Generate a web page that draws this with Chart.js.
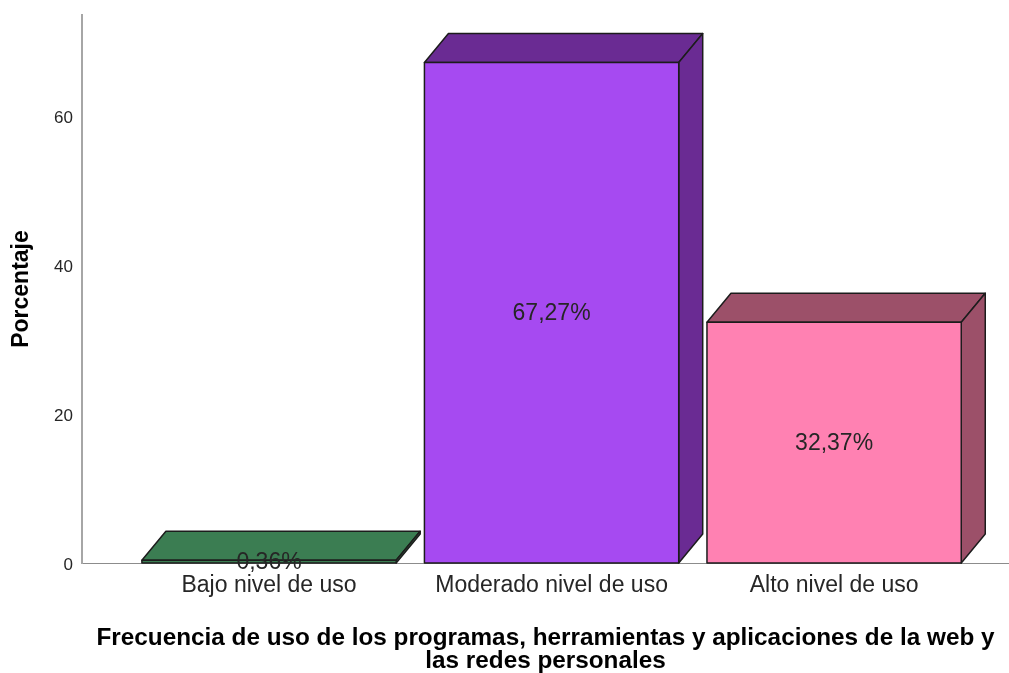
<!DOCTYPE html>
<html>
<head>
<meta charset="utf-8">
<script src="https://cdn.jsdelivr.net/npm/chart.js@4.4.1/dist/chart.umd.min.js"></script>
<style>
  html, body { margin: 0; padding: 0; background: #fff; }
  #wrap { width: 1009px; height: 673px; }
</style>
</head>
<body>
<div id="wrap"><canvas id="nivelUsoChart"></canvas></div>
<script>
const categories = ['Bajo nivel de uso', 'Moderado nivel de uso', 'Alto nivel de uso'];
const percentages = [0.36, 67.27, 32.37];
const yTicks = [0, 20, 40, 60];

const frontColors = ['#3b7d52', '#a64af1', '#ff81b2'];
const topColors = ['#3b7d52', '#6a2b93', '#9c5069'];
const fontFam = "'Liberation Sans', Arial, sans-serif";

// caras superior y lateral de cada barra (efecto 3D como en SPSS)
const bars3d = {
  id: 'bars3d',
  afterDatasetsDraw(chart) {
    const ctx = chart.ctx;
    const meta = chart.getDatasetMeta(0);
    const dx = 24, dy = 29;
    const poly = (pts, fill) => {
      ctx.beginPath();
      ctx.moveTo(pts[0][0], pts[0][1]);
      for (let k = 1; k < pts.length; k++) ctx.lineTo(pts[k][0], pts[k][1]);
      ctx.closePath();
      ctx.fillStyle = fill;
      ctx.fill();
      ctx.stroke();
    };
    ctx.save();
    ctx.lineWidth = 1.5;
    ctx.strokeStyle = '#1c1c1c';
    ctx.lineJoin = 'round';
    meta.data.forEach((bar, i) => {
      const l = bar.x - bar.width / 2, r = bar.x + bar.width / 2;
      const t = bar.y, b = bar.base;
      poly([[l, t], [l + dx, t - dy], [r + dx, t - dy], [r, t]], topColors[i]);
      poly([[r, t], [r + dx, t - dy], [r + dx, b - dy], [r, b]], topColors[i]);
      poly([[l, t], [r, t], [r, b], [l, b]], frontColors[i]);
    });
    ctx.fillStyle = '#262626';
    ctx.font = '23px ' + fontFam;
    ctx.textAlign = 'center';
    ctx.textBaseline = 'middle';
    meta.data.forEach((bar, i) => {
      const txt = percentages[i].toFixed(2).replace('.', ',') + '%';
      ctx.fillText(txt, bar.x, (bar.y + bar.base) / 2 + 1);
    });
    ctx.restore();
  }
};

const ctx = document.getElementById('nivelUsoChart').getContext('2d');
new Chart(ctx, {
  type: 'bar',
  data: {
    datasets: [{
      data: percentages.map((v, i) => ({ x: i, y: v })),
      backgroundColor: 'rgba(0,0,0,0)',
      borderWidth: 0,
      barPercentage: 0.9,
      categoryPercentage: 1
    }]
  },
  options: {
    responsive: true,
    maintainAspectRatio: false,
    animation: false,
    layout: { padding: { top: 15, left: 0, right: 0, bottom: 0 } },
    plugins: {
      legend: { display: false },
      tooltip: { enabled: false }
    },
    scales: {
      x: {
        type: 'linear',
        offset: false,
        min: -0.662,
        max: 2.619,
        afterFit: s => { s.height = 110; s.paddingLeft = 0; s.paddingRight = 0; },
        afterBuildTicks: s => { s.ticks = categories.map((c, i) => ({ value: i })); },
        grid: { display: false, drawTicks: false, offset: false },
        border: { display: true, color: '#8c8c8c', width: 1 },
        ticks: {
          autoSkip: false,
          maxRotation: 0,
          padding: 9,
          color: '#262626',
          font: { family: fontFam, size: 23 },
          callback: v => categories[v]
        },
        title: {
          display: true,
          text: ['Frecuencia de uso de los programas, herramientas y aplicaciones de la web y', 'las redes personales'],
          color: '#000',
          font: { family: fontFam, size: 24.3, weight: 'bold', lineHeight: 0.96 },
          padding: { top: 0, bottom: 0 }
        }
      },
      y: {
        min: 0,
        max: 73.66,
        afterFit: s => { s.width = 82; s.paddingTop = 0; s.paddingBottom = 0; },
        afterBuildTicks: s => { s.ticks = yTicks.map(v => ({ value: v })); },
        grid: { display: false, drawTicks: false },
        border: { display: true, color: '#a6a6a6', width: 2 },
        ticks: {
          padding: 9,
          labelOffset: 2,
          color: '#262626',
          font: { family: fontFam, size: 17 }
        },
        title: {
          display: true,
          text: 'Porcentaje',
          color: '#000',
          font: { family: fontFam, size: 23, weight: 'bold' },
          padding: { top: 8, bottom: 0 }
        }
      }
    }
  },
  plugins: [bars3d]
});
</script>
</body>
</html>
